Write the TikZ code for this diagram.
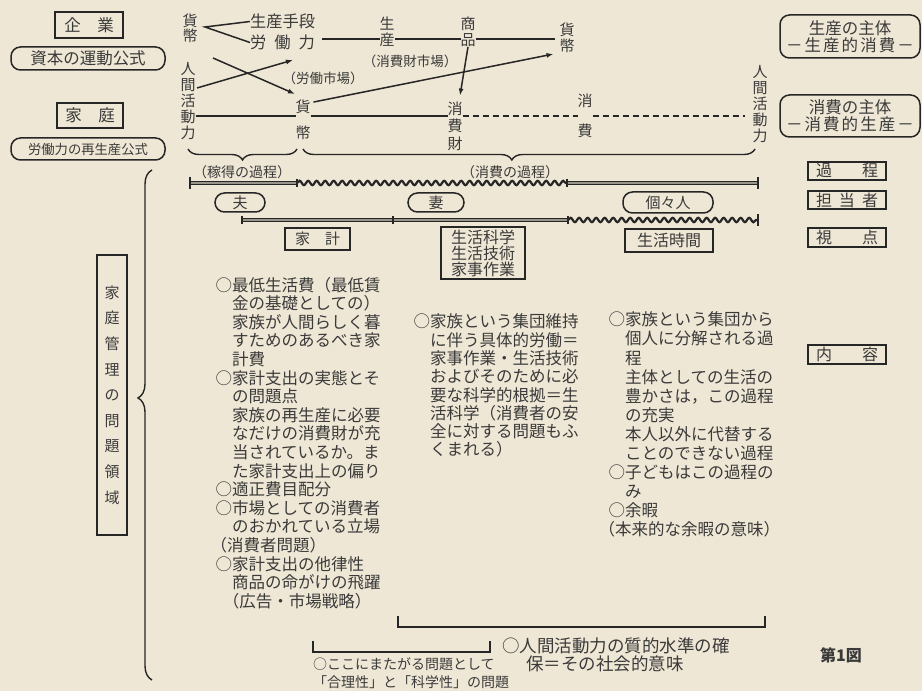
\documentclass[tikz,border=0pt]{standalone}
\usepackage{fontspec}
\setmainfont{Noto Sans CJK JP}
\usetikzlibrary{decorations.pathmorphing,decorations.pathreplacing,calc,arrows.meta}
\newdimen\PX \PX=0.75pt
\definecolor{paper}{HTML}{EFE7D5}
\definecolor{ink}{HTML}{262626}
\definecolor{txt}{HTML}{3A3A3A}
\definecolor{barmid}{HTML}{9A958A}
\tikzset{
  ln/.style={draw=ink, line width=1.5\PX},
  arr/.style={ln, -{Latex[length=5.25pt,width=3.75pt]}},
  dsh/.style={ln, dash pattern=on 4.5pt off 3pt},
  frame/.style={draw=ink, line width=1.6\PX},
  thickframe/.style={draw=ink, line width=2.3\PX},
  pill/.style={draw=ink, line width=1.5\PX, rounded corners=9.5\PX},
  solidbar/.style={draw=ink, line width=1.5\PX, double=barmid, double distance=1.5\PX},
  wavebar/.style={draw=ink, line width=2.2\PX, decorate, decoration={snake, amplitude=2.2\PX, segment length=8.5\PX}},
  endtick/.style={draw=ink, line width=2\PX},
  brc/.style={draw=ink, line width=1.4\PX, decorate},
  vt/.style={align=center},
  fBody/.style={font=\fontsize{12.375pt}{13.95pt}\selectfont},
}
\newcommand\tickat[2]{\draw[endtick] ($(#1)+(0,-#2)$) -- ($(#1)+(0,#2)$);}
\begin{document}
\begin{tikzpicture}[x=0.75pt,y=-0.75pt, every node/.style={text=txt, inner sep=0pt, outer sep=0pt}]
\fill[paper] (0,0) rectangle (922,691);
\useasboundingbox (0,0) rectangle (922,691);

% ---------- left column labels
\node[thickframe, minimum width=68\PX, minimum height=26\PX, font=\fontsize{12.375pt}{12.375pt}\selectfont] (kigyou) at (89,25) {企　業};
\node[pill, minimum width=154\PX, minimum height=23\PX, font=\fontsize{12.375pt}{12.375pt}\selectfont] (shihon) at (88,58.5) {資本の運動公式};
\node[thickframe, minimum width=66\PX, minimum height=25\PX, font=\fontsize{12.375pt}{12.375pt}\selectfont] (katei) at (90,115.5) {家　庭};
\node[pill, minimum width=154\PX, minimum height=22\PX, font=\fontsize{10pt}{10pt}\selectfont] (saisei) at (88,149) {労働力の再生産公式};

% ---------- flow diagram
\coordinate (L0) at (0,39);
\coordinate (L1) at (0,116);
\node[vt, font=\fontsize{11.25pt}{11.25pt}\selectfont] (kahei1) at (190,28.5) {貨\\幣};
\node[anchor=west, font=\fontsize{12.2pt}{12.2pt}\selectfont] (shudan) at (250,21.5) {生産手段};
\node[anchor=west, font=\fontsize{12.2pt}{12.2pt}\selectfont] (rodo) at (250,42.5) {\makebox[65\PX]{労\hfill 働\hfill 力}};
\coordinate (vtx) at (205,27);
\draw[ln] (shudan.west) -- (vtx) -- (rodo.west);

\node[vt, font=\fontsize{11.25pt}{12pt}\selectfont] (ningenL) at (188,101.5) {人\\間\\活\\動\\力};
\node[vt, font=\fontsize{11.25pt}{19.5pt}\selectfont] (kahei2) at (303,120) {貨\\幣};
\node[vt, font=\fontsize{11.25pt}{13.125pt}\selectfont] (shohizai) at (455,126) {消\\費\\財};
\node[vt, font=\fontsize{11.25pt}{22.5pt}\selectfont] (shohi) at (585,116) {消\\費};
\node[vt, font=\fontsize{11.25pt}{12pt}\selectfont] (ningenR) at (760,104) {人\\間\\活\\動\\力};
\node[vt, font=\fontsize{11.25pt}{12pt}\selectfont] (seisan) at (387,32) {生\\産};
\node[vt, font=\fontsize{11.25pt}{12pt}\selectfont] (shohin) at (468,32) {商\\品};
\node[vt, font=\fontsize{11.25pt}{12pt}\selectfont] (kahei3) at (567,38) {貨\\幣};

\draw[ln] ($(rodo.east |- L0)+(7,0)$) -- (seisan.west |- L0);
\draw[ln] (seisan.east |- L0) -- (shohin.west |- L0);
\draw[ln] (shohin.east |- L0) -- ($(kahei3.west |- L0)+(-5,0)$);

\draw[ln] (ningenL.east |- L1) -- (kahei2.west |- L1);
\draw[ln] (kahei2.east |- L1) -- (shohizai.west |- L1);
\draw[dsh] (shohizai.east |- L1) -- (shohi.west |- L1);
\draw[dsh] (shohi.east |- L1) -- ($(ningenR.west |- L1)+(-8,0)$);

\coordinate (xa1) at (213,58);
\coordinate (xb1) at (295,94);
\coordinate (xa2) at (197,88);
\coordinate (xb2) at (293,60);
\draw[arr] (xa1) -- (xb1);
\draw[arr] (xa2) -- (xb2);
\draw[arr] (shohin.south) -- ($(shohizai.north)+(5,-6)$);
\draw[arr] ($(kahei2.north east)+(3,2)$) -- ($(kahei3.west)+(-6,16)$);

\node[font=\fontsize{10.125pt}{10.125pt}\selectfont] (roudoushijou) at (323,78) {（労働市場）};
\node[font=\fontsize{10.125pt}{10.125pt}\selectfont] (shohizaishijou) at (410,61) {（消費財市場）};

% ---------- braces under flow
\draw[brc, decoration={brace, mirror, amplitude=8.25pt}] (188,149) -- (297,149);
\draw[brc, decoration={brace, mirror, amplitude=8.25pt, aspect=0.462}] (303,149) -- (755,149);
\node[font=\fontsize{10.5pt}{10.5pt}\selectfont] (kasegi) at (242,172) {（稼得の過程）};
\node[font=\fontsize{10.5pt}{10.5pt}\selectfont] (shohikatei) at (510,172) {（消費の過程）};

% ---------- bars
\coordinate (b1s) at (190,183);
\coordinate (b1a) at (297,183);
\coordinate (b1b) at (567,183);
\coordinate (b1e) at (758,183);
\coordinate (b2s) at (242,220);
\coordinate (b2a) at (393,220);
\coordinate (b2b) at (568,220);
\coordinate (b2e) at (758,220);
\draw[solidbar] (b1s) -- (b1a);
\draw[wavebar] (b1a) -- (b1b);
\draw[solidbar] (b1b) -- (b1e);
\draw[solidbar] (b2s) -- (b2b);
\draw[wavebar] (b2b) -- (b2e);
\tickat{b1s}{6}
\tickat{b1e}{6}
\tickat{b2e}{6}
\tickat{b1a}{4}
\tickat{b1b}{4}
\tickat{b2s}{4}
\tickat{b2a}{4}
\tickat{b2b}{4}

% ---------- persons
\node[pill, minimum width=50\PX, minimum height=19\PX, font=\fontsize{11.25pt}{11.25pt}\selectfont] (otto) at (240,202.5) {夫};
\node[pill, minimum width=56\PX, minimum height=19\PX, font=\fontsize{11.25pt}{11.25pt}\selectfont] (tsuma) at (436,202.5) {妻};
\node[pill, minimum width=90\PX, minimum height=21\PX, font=\fontsize{11.25pt}{11.25pt}\selectfont] (koko) at (668,202.5) {個々人};

% ---------- viewpoints
\node[frame, minimum width=65\PX, minimum height=22\PX, font=\fontsize{11.25pt}{11.25pt}\selectfont] (kakei) at (317.5,239) {家　計};
\node[frame, minimum width=84\PX, minimum height=52\PX, align=center, font=\fontsize{12pt}{12pt}\selectfont] (kagaku) at (483,253) {生活科学\\生活技術\\家事作業};
\node[frame, minimum width=88\PX, minimum height=23\PX, font=\fontsize{12pt}{12pt}\selectfont] (jikan) at (669,240.5) {生活時間};

% ---------- right column
\node[pill, minimum width=140\PX, minimum height=43\PX, align=center, font=\fontsize{12.375pt}{12.75pt}\selectfont] (p1) at (850,36.5) {生産の主体\\\makebox[128\PX]{－\hfill 生\hfill 産\hfill 的\hfill 消\hfill 費\hfill －}};
\node[pill, minimum width=140\PX, minimum height=42\PX, align=center, font=\fontsize{12.375pt}{12.75pt}\selectfont] (p2) at (850,116) {消費の主体\\\makebox[128\PX]{－\hfill 消\hfill 費\hfill 的\hfill 生\hfill 産\hfill －}};
\node[frame, minimum width=78\PX, minimum height=18\PX, font=\fontsize{12pt}{12pt}\selectfont] (r1) at (847,171) {\makebox[62\PX]{過\hfill 程}};
\node[frame, minimum width=78\PX, minimum height=18\PX, font=\fontsize{12pt}{12pt}\selectfont] (r2) at (847,200) {\makebox[62\PX]{担\hfill 当\hfill 者}};
\node[frame, minimum width=78\PX, minimum height=19\PX, font=\fontsize{12pt}{12pt}\selectfont] (r3) at (847,237.5) {\makebox[62\PX]{視\hfill 点}};
\node[frame, minimum width=78\PX, minimum height=19\PX, font=\fontsize{12pt}{12pt}\selectfont] (r4) at (847,354.5) {\makebox[62\PX]{内\hfill 容}};

% ---------- problem domain
\node[frame, minimum width=30\PX, minimum height=280\PX, align=center, font=\fontsize{11.25pt}{19.2pt}\selectfont] (ryouiki) at (112,395) {家\\庭\\管\\理\\の\\問\\題\\領\\域};
\draw[brc, decoration={brace, mirror, amplitude=10.5pt, aspect=0.447}] (152,170) -- (152,680);

% ---------- contents
\node[anchor=north west, align=left, fBody] (col1) at (215.5,277) {○最低生活費（最低賃\\　金の基礎としての）\\　家族が人間らしく暮\\　すためのあるべき家\\　計費\\○家計支出の実態とそ\\　の問題点\\　家族の再生産に必要\\　なだけの消費財が充\\　当されているか。ま\\　た家計支出上の偏り\\○適正費目配分\\○市場としての消費者\\　のおかれている立場\\\kern-0.3em（消費者問題）\\○家計支出の他律性\\　商品の命がけの飛躍\\　\kern-0.55em（広告・市場戦略）};
\node[anchor=north west, align=left, font=\fontsize{12.375pt}{13.725pt}\selectfont] (col2) at (413.5,314) {○家族という集団維持\\　に伴う具体的労働＝\\　家事作業・生活技術\\　およびそのために必\\　要な科学的根拠＝生\\　活科学（消費者の安\\　全に対する問題もふ\\　くまれる）};
\node[anchor=north west, align=left, font=\fontsize{12.375pt}{14.325pt}\selectfont] (col3) at (608.5,312) {○家族という集団から\\　個人に分解される過\\　程\\　主体としての生活の\\　豊かさは，この過程\\　の充実\\　本人以外に代替する\\　ことのできない過程\\○子どもはこの過程の\\　み\\○余暇\\\kern-0.6em（本来的な余暇の意味）};

% ---------- bottom brackets and notes
\coordinate (k1a) at (398,616);
\coordinate (k1b) at (398,627);
\coordinate (k1c) at (765,627);
\coordinate (k1d) at (765,616);
\draw[ln] (k1a) -- (k1b) -- (k1c) -- (k1d);
\coordinate (k2a) at (313,641);
\coordinate (k2b) at (313,652);
\coordinate (k2c) at (490,652);
\coordinate (k2d) at (490,641);
\draw[ln] (k2a) -- (k2b) -- (k2c) -- (k2d);
\node[anchor=north west, align=left, font=\fontsize{13.125pt}{13.5pt}\selectfont] (qual) at (502,638) {○人間活動力の質的水準の確\\\hspace*{24\PX}保＝その社会的意味};
\node[anchor=north west, align=left, font=\fontsize{10.5pt}{13.5pt}\selectfont] (mata) at (313,657.5) {○ここにまたがる問題として\\「合理性」と「科学性」の問題};
\node[font=\bfseries\fontsize{12pt}{12pt}\selectfont] (fig) at (841,655) {第1図};
\end{tikzpicture}
\end{document}
